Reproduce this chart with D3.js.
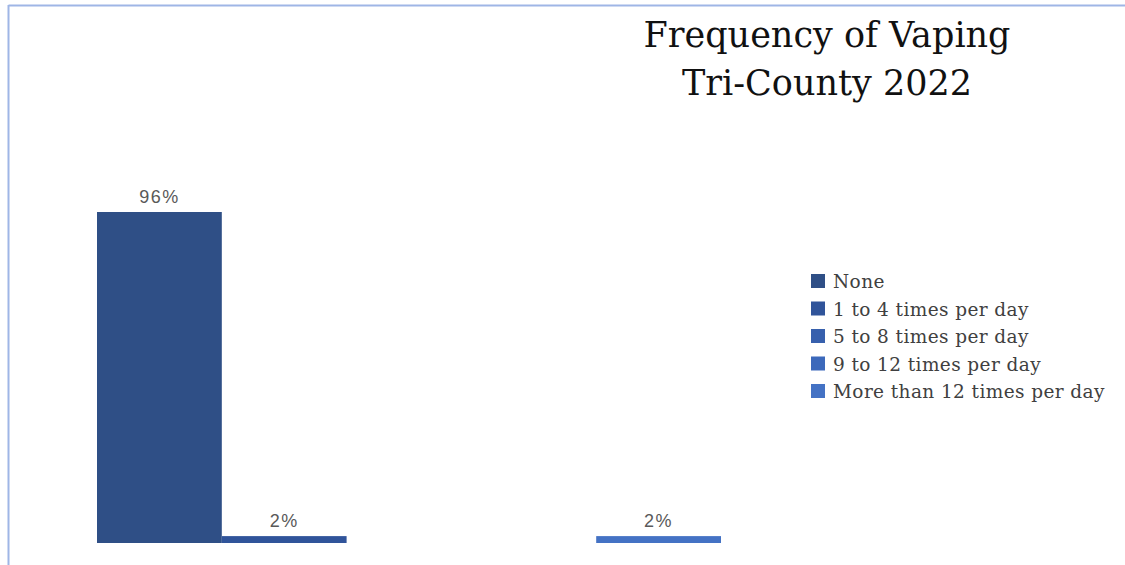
<!DOCTYPE html>
<html><head><meta charset="utf-8">
<script src="https://cdn.jsdelivr.net/npm/d3@7/dist/d3.min.js"></script>
<style>html,body{margin:0;padding:0;background:#fff;}svg{display:block;}</style>
</head><body>
<svg id="chart" width="1125" height="565"></svg>
<script>
const categories = ["None", "1 to 4 times per day", "5 to 8 times per day", "9 to 12 times per day", "More than 12 times per day"];
const values = [96, 2, 0, 0, 2];
const colors = ["#2f4f86", "#30549a", "#3760ad", "#3c69bb", "#4472c4"];
const titleLines = ["Frequency of Vaping", "Tri-County 2022"];

const svg = d3.select("#chart");
const W = 1125, H = 565;

// frame lines (top and left)
svg.append("line").attr("x1", 8.5).attr("x2", W).attr("y1", 5.5).attr("y2", 5.5)
  .attr("stroke", "#9fb6e6").attr("stroke-width", 2);
svg.append("line").attr("x1", 8.5).attr("x2", 8.5).attr("y1", 5).attr("y2", H)
  .attr("stroke", "#9fb6e6").attr("stroke-width", 2);

const x = d3.scaleBand().domain(categories).range([97, 721]).padding(0);
const y = d3.scaleLinear().domain([0, 96]).range([543, 212]);

svg.append("g").selectAll("rect").data(categories).join("rect")
  .attr("x", d => x(d))
  .attr("width", x.bandwidth())
  .attr("y", (d, i) => y(values[i]))
  .attr("height", (d, i) => y(0) - y(values[i]))
  .attr("fill", (d, i) => colors[i]);

svg.append("g").selectAll("text").data(categories.filter((d, i) => values[i] > 0)).join("text")
  .attr("x", d => x(d) + x.bandwidth() / 2)
  .attr("y", d => y(values[categories.indexOf(d)]) - 9)
  .attr("text-anchor", "middle")
  .attr("font-family", "Liberation Sans, Arial, sans-serif")
  .attr("font-size", 18)
  .attr("letter-spacing", 1.5)
  .attr("fill", "#595959")
  .text(d => values[categories.indexOf(d)] + "%");

// title
svg.append("g").selectAll("text").data(titleLines).join("text")
  .attr("x", 827)
  .attr("y", (d, i) => 47 + i * 48)
  .attr("text-anchor", "middle")
  .attr("font-family", "DejaVu Serif, serif")
  .attr("font-size", 35)
  .attr("fill", "#111")
  .text(d => d);

// legend
const leg = svg.append("g").attr("transform", "translate(811,274)");
const rows = leg.selectAll("g").data(categories).join("g")
  .attr("transform", (d, i) => `translate(0,${i * 27.5})`);
rows.append("rect").attr("width", 14).attr("height", 14).attr("fill", (d, i) => colors[i]);
rows.append("text").attr("x", 22).attr("y", 14)
  .attr("font-family", "DejaVu Serif, serif")
  .attr("font-size", 18.5)
  .attr("letter-spacing", 0.4)
  .attr("fill", "#404040")
  .text(d => d);
</script>
</body></html>
